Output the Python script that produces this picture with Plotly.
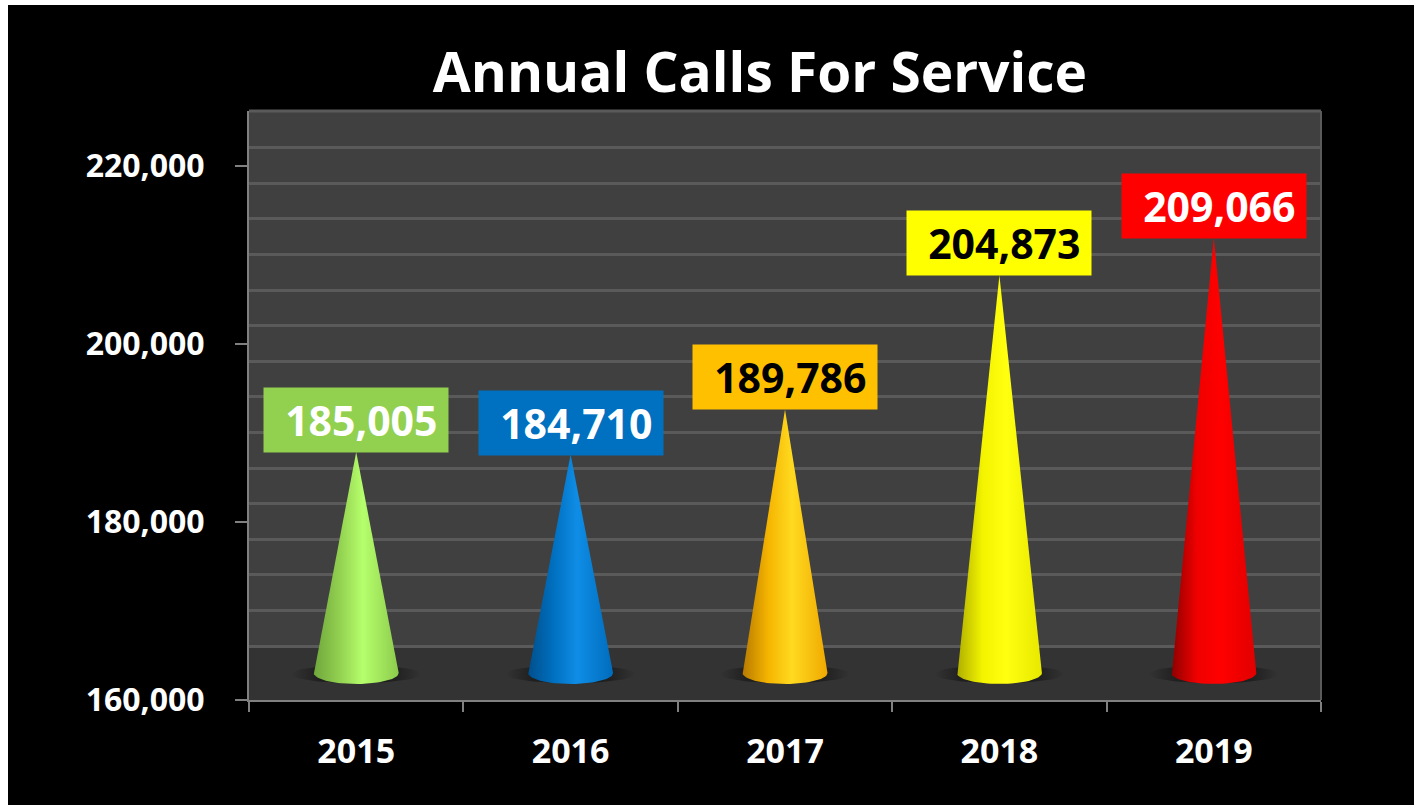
import numpy as np
import plotly.graph_objects as go

# ---- data ----
years = ["2015", "2016", "2017", "2018", "2019"]
calls = [185005, 184710, 189786, 204873, 209066]
label_colors = ["#92D050", "#0070C0", "#FFC000", "#FFFF00", "#FF0000"]
text_colors = ["#FFFFFF", "#FFFFFF", "#000000", "#000000", "#FFFFFF"]
cone_dark = ["#6FA63C", "#004F8C", "#B87A00", "#B0B000", "#900000"]
cone_mid = ["#92D050", "#0070C0", "#F5B400", "#F4F400", "#F00000"]
cone_light = ["#B6FF6C", "#0F8DE6", "#FFDA20", "#FFFF10", "#FF0000"]
cone_right = ["#8CCB4C", "#006CBC", "#F0A800", "#E8E800", "#E00000"]
y_ticks = [160000, 180000, 200000, 220000]

# ---- layout constants (pixels of the page) ----
W, H = 1419, 805
L, R, T, B = 249, 1321, 111, 700
PX_PER_UNIT = 178 / 20000
Y0_PX = 699.5  # pixel of 160,000
def px_to_val(py):
    return 160000 + (Y0_PX - py) / PX_PER_UNIT

DEPTH = 25 / PX_PER_UNIT            # 3-D offset of the cone tips
BASE_Y = px_to_val(673)
BASE_RY = 11 / PX_PER_UNIT
BASE_RX = 42.5 / ((R - L) / 5)
SH_RX = 65 / ((R - L) / 5)
SH_RY = 9 / PX_PER_UNIT
wall_lines = [px_to_val(646) + 4000 * k for k in range(16)]

fig = go.Figure()
t = np.linspace(np.pi, 2 * np.pi, 40)

for i, v in enumerate(calls):
    # shadow on the floor
    st = np.linspace(0, 2 * np.pi, 60)
    fig.add_trace(go.Scatter(
        x=i + SH_RX * np.cos(st), y=BASE_Y - 0.1 * BASE_RY + SH_RY * np.sin(st),
        mode="lines", line=dict(width=0), fill="toself", hoverinfo="skip", showlegend=False,
        fillgradient=dict(type="horizontal", colorscale=[
            [0, "rgba(26,26,26,0)"], [0.2, "rgba(26,26,26,0.75)"], [0.5, "rgba(26,26,26,1)"],
            [0.8, "rgba(26,26,26,0.75)"], [1, "rgba(26,26,26,0)"]])))
    # cone body
    tip = v + DEPTH
    xs = np.concatenate([[i], i + BASE_RX * np.cos(t), [i]])
    ys = np.concatenate([[tip], BASE_Y + BASE_RY * np.sin(t), [tip]])
    fig.add_trace(go.Scatter(
        x=xs, y=ys, mode="lines", line=dict(width=0), fill="toself",
        name=years[i], hovertemplate=f"{years[i]}: {v:,}<extra></extra>", showlegend=False,
        fillgradient=dict(type="horizontal", colorscale=[
            [0, cone_dark[i]], [0.3, cone_mid[i]], [0.58, cone_light[i]], [1, cone_right[i]]])))
    # value label box
    fig.add_annotation(
        x=i, y=tip, xref="x", yref="y", xanchor="center", yanchor="bottom",
        text="&nbsp;" + f"{v:,}", showarrow=False, width=184, height=64, borderpad=0,
        bgcolor=label_colors[i], valign="middle", align="center", yshift=-1,
        font=dict(family="Open Sans", size=41, color=text_colors[i], weight="bold"))

fig.update_layout(
    width=W, height=H, autosize=False,
    margin=dict(l=L, r=W - R, t=T, b=H - B, pad=0),
    paper_bgcolor="#FFFFFF", plot_bgcolor="#404040", showlegend=False,
    title=dict(text="Annual Calls For Service", x=(760 - L) / (R - L), xref="paper",
               y=1 - 73 / H, yref="container", xanchor="center", yanchor="middle",
               font=dict(family="Open Sans", size=55, color="#FFFFFF", weight="bold")),
    xaxis=dict(range=[-0.5, 4.5], tickmode="array", tickvals=list(range(5)), ticktext=years,
               ticks="", showgrid=False, zeroline=False, showline=True, linecolor="#808080", linewidth=2,
               tickfont=dict(family="Open Sans", size=34, color="#FFFFFF", weight="bold"),
               ticklabelstandoff=20,
               minor=dict(tickmode="array", tickvals=[k - 0.5 for k in range(6)], ticks="outside",
                          ticklen=10, tickwidth=2, tickcolor="#808080", showgrid=False)),
    yaxis=dict(range=[px_to_val(B), px_to_val(T)], tickmode="array", tickvals=y_ticks,
               ticktext=[f"{v:,}" for v in y_ticks], ticks="outside", ticklen=12, tickwidth=2,
               tickcolor="#808080", showgrid=False, zeroline=False, showline=True,
               linecolor="#808080", linewidth=2, ticklabelstandoff=24,
               tickfont=dict(family="Open Sans", size=32, color="#FFFFFF", weight="bold"),
               minor=dict(tickmode="array", tickvals=wall_lines, ticks="", showgrid=True,
                          gridcolor="#5A5A5A", gridwidth=3)),
    shapes=[
        dict(type="rect", layer="below", xref="paper", yref="paper",
             x0=(8 - L) / (R - L), x1=(1414 - L) / (R - L),
             y0=(B - H) / (B - T), y1=(B - 5) / (B - T),
             fillcolor="#000000", line=dict(width=0)),
        dict(type="rect", layer="below", xref="paper", yref="paper",
             x0=0, x1=1, y0=0, y1=1, fillcolor="#404040", line=dict(width=0)),
        dict(type="rect", layer="between", xref="paper", yref="paper",
             x0=0, x1=1, y0=0, y1=(B - 647) / (B - T),
             fillcolor="#333333", line=dict(width=0)),
        dict(type="line", layer="between", xref="paper", yref="paper",
             x0=1, x1=1, y0=0, y1=1, line=dict(color="#5A5A5A", width=2)),
        dict(type="line", layer="between", xref="paper", yref="paper",
             x0=0, x1=1, y0=1, y1=1, line=dict(color="#5A5A5A", width=3)),
    ],
)

fig.write_html("out.html", post_script="document.body.style.margin='0';",
               config={"displayModeBar": False})
